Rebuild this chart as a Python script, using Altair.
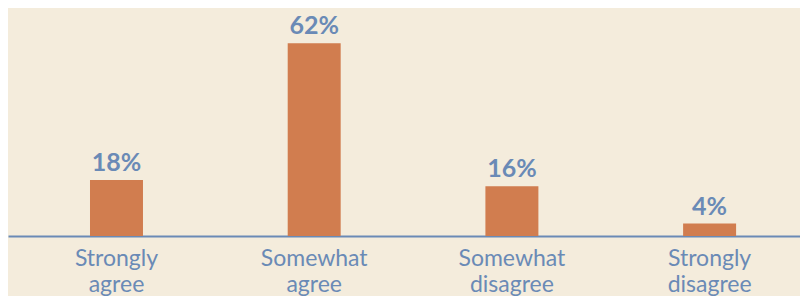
import altair as alt
import pandas as pd

categories = ["Strongly agree", "Somewhat agree", "Somewhat disagree", "Strongly disagree"]
values = [18, 62, 16, 4]
labels = ["18%", "62%", "16%", "4%"]

df = pd.DataFrame({"cat": categories, "val": values, "lab": labels})

BLUE = "#6A8AB6"
ORANGE = "#D17D4F"
BG = "#F4ECDC"
FONT = "Lato"

x = alt.X("cat:N", sort=categories, title=None,
          scale=alt.Scale(paddingInner=0.732, paddingOuter=0.369, align=0.562),
          axis=alt.Axis(labelAngle=0, ticks=False, domainColor=BLUE, domainWidth=2,
                        labelColor=BLUE, labelFont=FONT, labelFontSize=23,
                        labelBaseline="alphabetic", labelPadding=29,
                        labelLineHeight=26, labelExpr="split(datum.label, ' ')"))
y = alt.Y("val:Q", scale=alt.Scale(domain=[0, 73.3], nice=False), axis=None)

bars = alt.Chart(df).mark_bar(color=ORANGE).encode(x=x, y=y)
text = alt.Chart(df).mark_text(color=BLUE, font=FONT, fontSize=25, fontWeight="bold",
                               baseline="alphabetic", dy=-9).encode(x=x, y=y, text="lab:N")

chart = alt.layer(bars, text).properties(
    width=792, height=228,
    autosize=alt.AutoSizeParams(type="none"),
    padding={"left": 0, "top": 0, "right": 0, "bottom": 60},
    background=BG,
).configure_view(stroke=None)

chart.save("out.html", embed_options={"renderer": "svg", "actions": False})
